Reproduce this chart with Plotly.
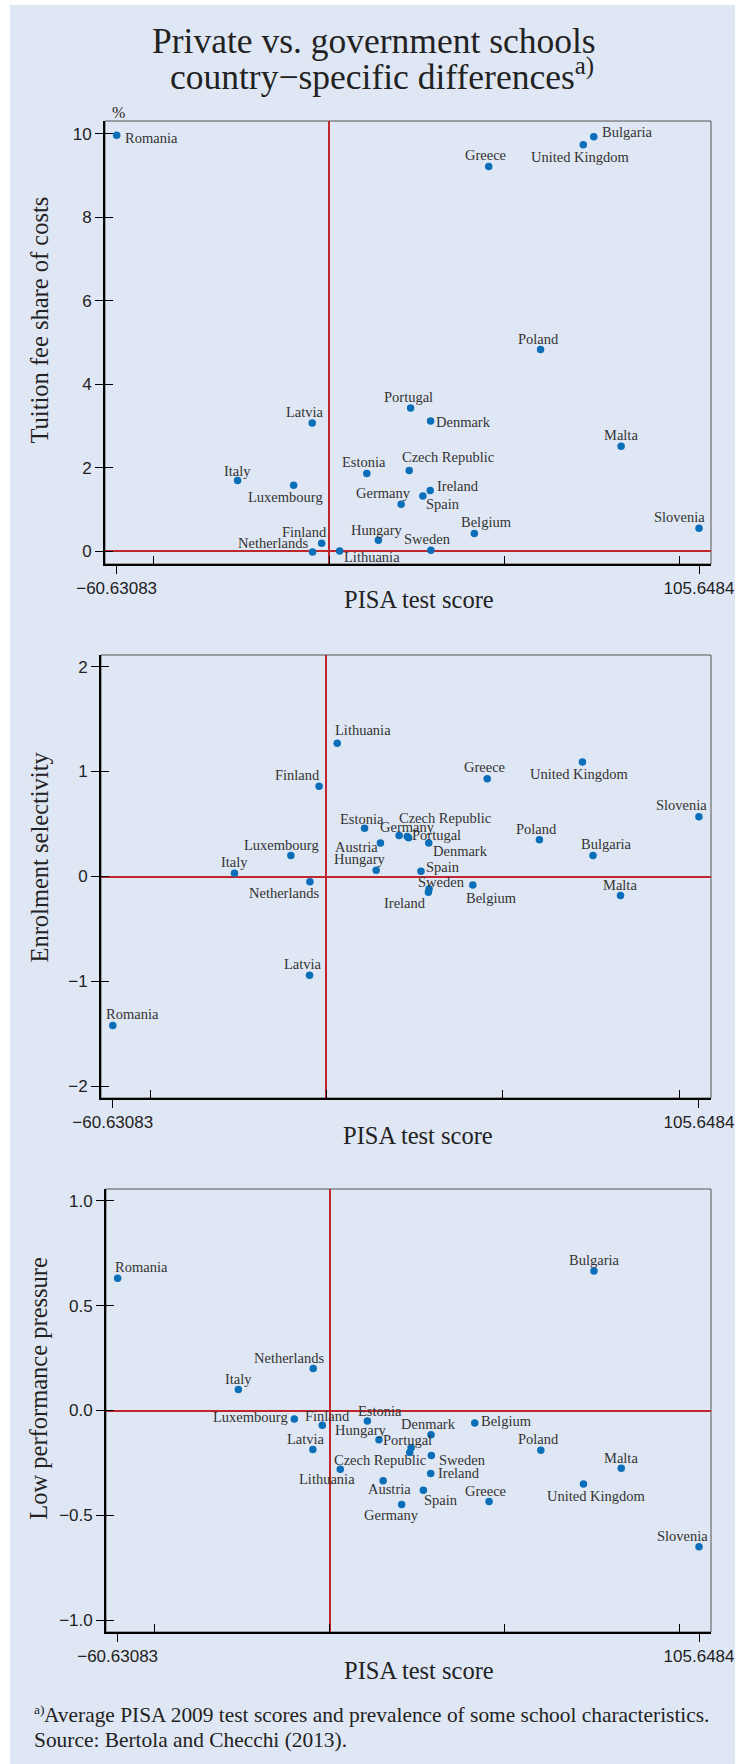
import plotly.graph_objects as go

# ---------------------------------------------------------------------------
# Data: private minus government school differences, by country
# ---------------------------------------------------------------------------
countries = [
    "Romania", "Italy", "Luxembourg", "Latvia", "Netherlands", "Finland",
    "Lithuania", "Estonia", "Hungary", "Austria", "Germany", "Czech Republic",
    "Portugal", "Spain", "Ireland", "Denmark", "Sweden", "Belgium", "Greece",
    "Poland", "United Kingdom", "Bulgaria", "Malta", "Slovenia",
]
pisa_score = [
    -60.63083, -26.1, -10.1, -4.8, -4.7, -2.1,
    3.05, 10.8, 14.1, 15.3, 20.6, 22.9,
    23.3, 26.8, 28.9, 29.0, 29.1, 41.5, 45.6,
    60.4, 72.6, 75.6, 83.4, 105.6484,
]
tuition_fee_share = [
    9.97, 1.69, 1.58, 3.07, -0.02, 0.19,
    0.0, 1.86, 0.26, None, 1.12, 1.93,
    3.43, 1.32, 1.45, 3.12, 0.02, 0.42, 9.22,
    4.83, 9.74, 9.93, 2.51, 0.55,
]
enrolment_selectivity = [
    -1.42, 0.03, 0.20, -0.94, -0.05, 0.86,
    1.27, 0.46, 0.06, 0.32, 0.39, 0.38,
    0.37, 0.05, -0.15, 0.32, -0.12, -0.08, 0.93,
    0.35, 1.09, 0.20, -0.18, 0.57,
]
low_performance_pressure = [
    0.63, 0.10, -0.04, -0.186, 0.20, -0.07,
    -0.28, -0.05, -0.14, -0.335, -0.448, -0.20,
    -0.178, -0.38, -0.30, -0.116, -0.215, -0.059, -0.434,
    -0.19, -0.35, 0.665, -0.275, -0.65,
]

x_tick_vals = [-60.63083, 105.6484]
x_tick_text = ["\u221260.63083", "105.6484"]
x_minor_vals = [-50, 0, 50, 100]

y_titles = ["Tuition fee share of costs", "Enrolment selectivity",
            "Low performance pressure"]
y_tick_vals = [[0, 2, 4, 6, 8, 10], [-2, -1, 0, 1, 2], [-1.0, -0.5, 0.0, 0.5, 1.0]]
y_tick_formats = ["d", "d", ".1f"]

title_line1 = "Private vs. government schools"
title_line2 = "country\u2212specific differences<sup>a)</sup>"
footnote_line1 = "Average PISA 2009 test scores and prevalence of some school characteristics."
footnote_line2 = "Source: Bertola and Checchi (2013)."

# ---------------------------------------------------------------------------
# Styling and geometry (pixels on a 735 x 1764 page)
# ---------------------------------------------------------------------------
W, H = 735, 1764
SERIF = "Liberation Serif, Times New Roman, serif"
SANS = "Liberation Sans, Arial, Helvetica, sans-serif"
PAGE_BLUE = "#E0E7F4"
DOT_BLUE = "#0A6FB8"
REF_RED = "#C0272D"
INK = "#222222"
LABEL_INK = "#333333"

PLOT_RIGHT = 711
X_RANGE = [-63.96, 109.07]
panel_boxes = [  # left, top, bottom (px)
    (105, 121, 564),
    (101, 655, 1098),
    (106, 1189, 1632),
]
y_ranges = [[-0.31, 10.31], [-2.11, 2.11], [-1.056, 1.056]]
y_title_centres = [320.5, 857.5, 1388.7]
x_title_centres = [(419, 600), (417.5, 1135), (419, 1670)]

# label placement: (dx, dy) of label centre from its marker, px, dy downwards
label_offsets = [
    {
        "Romania": (34.7, 2.7), "Bulgaria": (33, -5.3), "United Kingdom": (-2.5, 12.6),
        "Greece": (-3.4, -11.3), "Poland": (-2.4, -10.7), "Portugal": (-2.4, -11.3),
        "Denmark": (32.7, 1.3), "Latvia": (-7.6, -11.3), "Malta": (-0.5, -11.3),
        "Estonia": (-2.7, -11), "Czech Republic": (38.7, -13.4), "Italy": (-0.4, -10),
        "Luxembourg": (-7.7, 11.7), "Germany": (-17.2, -11), "Ireland": (27.5, -4.7),
        "Spain": (19.8, 8), "Belgium": (12.4, -11.4), "Slovenia": (-19.5, -10.7),
        "Hungary": (-2, -10.3), "Sweden": (-3.5, -11.3), "Finland": (-17, -10.7),
        "Netherlands": (-39.2, -9), "Lithuania": (32.3, 6),
    },
    {
        "Lithuania": (25.5, -13), "Finland": (-21.3, -11), "Estonia": (-2.6, -9.7),
        "Germany": (8, -9), "Czech Republic": (37.7, -18.7), "Portugal": (28, -2.7),
        "Austria": (-24.3, 4), "Denmark": (31.5, 7.6), "Poland": (-2.7, -11),
        "Bulgaria": (13, -11), "Slovenia": (-17.3, -11.7), "Greece": (-3.1, -11.4),
        "United Kingdom": (-2.7, 12), "Luxembourg": (-9, -10.3), "Italy": (-0.3, -11),
        "Hungary": (-16.3, -11), "Netherlands": (-25.9, 11.6), "Spain": (22.5, -4.3),
        "Sweden": (12.7, -7), "Ireland": (-23.5, 10.6), "Belgium": (18.3, 13),
        "Malta": (-0.7, -10.3), "Latvia": (-6.4, -10.7), "Romania": (19.6, -11.4),
    },
    {
        "Romania": (24.1, -11), "Netherlands": (-24.6, -11), "Italy": (0.4, -10.3),
        "Luxembourg": (-44.2, -2), "Finland": (5.1, -9), "Estonia": (12.7, -9.6),
        "Hungary": (-18.5, -10), "Latvia": (-6.7, -10.7), "Portugal": (-3.2, -8),
        "Czech Republic": (-29.6, 7.3), "Denmark": (-2.6, -10.7), "Belgium": (32, -2),
        "Sweden": (31.2, 4.3), "Ireland": (28.8, -0.7), "Lithuania": (-13.3, 9.3),
        "Austria": (6.6, 8.3), "Spain": (17.3, 9.3), "Greece": (-3.5, -11),
        "Germany": (-10.5, 10.3), "Poland": (-2.3, -11), "Bulgaria": (0, -11),
        "Malta": (0, -10), "United Kingdom": (13.5, 12), "Slovenia": (-17, -11),
    },
]


def px_x(v):
    return v / W


def px_y(v):
    return 1 - v / H


def ax_id(letter, n):
    return letter if n == 1 else f"{letter}{n}"


def ax_key(letter, n):
    return f"{letter}axis" if n == 1 else f"{letter}axis{n}"


fig = go.Figure()
layout = dict(
    template="none",
    width=W, height=H, autosize=False,
    margin=dict(l=0, r=0, t=0, b=0, pad=0),
    paper_bgcolor="white", plot_bgcolor="white",
    showlegend=False,
)
shapes = [dict(type="rect", xref="paper", yref="paper",
               x0=px_x(10), x1=1, y0=0, y1=px_y(5),
               fillcolor=PAGE_BLUE, line=dict(width=0), layer="below")]
annotations = []

panel_values = [tuition_fee_share, enrolment_selectivity, low_performance_pressure]

for i, values in enumerate(panel_values):
    n = i + 1
    xid, yid = ax_id("x", n), ax_id("y", n)
    left, top, bottom = panel_boxes[i]
    tick_style = dict(ticklen=8, tickwidth=1.2, tickcolor="black")

    layout[ax_key("x", n)] = dict(
        domain=[px_x(left), px_x(PLOT_RIGHT)], range=X_RANGE, anchor=yid,
        automargin=False,
        showline=True, linecolor="black", linewidth=1.8,
        ticks="outside", tickvals=x_tick_vals, ticktext=x_tick_text,
        tickfont=dict(family=SANS, size=17, color=INK),
        minor=dict(tickmode="array", tickvals=x_minor_vals, ticks="inside",
                   showgrid=False, **tick_style),
        showgrid=False, zeroline=True, zerolinecolor=REF_RED, zerolinewidth=1.7,
        fixedrange=True, **tick_style,
    )
    layout[ax_key("y", n)] = dict(
        domain=[px_y(bottom), px_y(top)], range=y_ranges[i], anchor=xid,
        automargin=False,
        showline=True, linecolor="black", linewidth=1.8,
        ticks="outside", tickvals=y_tick_vals[i], tickformat=y_tick_formats[i],
        tickfont=dict(family=SANS, size=17, color=INK),
        showgrid=False, zeroline=True, zerolinecolor=REF_RED, zerolinewidth=1.7,
        fixedrange=True, **tick_style,
    )
    # second left axis carries the inward half of the crossing y ticks
    layout[ax_key("y", n + 3)] = dict(
        overlaying=yid, anchor=xid, side="left", range=y_ranges[i],
        automargin=False,
        tickvals=y_tick_vals[i], ticks="inside", showticklabels=False,
        showline=False, showgrid=False, zeroline=False, fixedrange=True,
        **tick_style,
    )

    xs = [x for x, v in zip(pisa_score, values) if v is not None]
    ys = [v for v in values if v is not None]
    names = [c for c, v in zip(countries, values) if v is not None]

    fig.add_trace(go.Scatter(
        x=xs, y=ys, mode="markers", xaxis=xid, yaxis=yid,
        marker=dict(color=DOT_BLUE, size=7.5, line=dict(width=0)),
        hovertext=names, hoverinfo="text",
    ))
    fig.add_trace(go.Scatter(x=[None], y=[None], mode="markers",
                             xaxis=xid, yaxis=ax_id("y", n + 3),
                             hoverinfo="skip"))

    # thin frame on the top and right; left/bottom come from the axis lines
    shapes.append(dict(type="rect", xref=f"{xid} domain", yref=f"{yid} domain",
                       x0=0, x1=1, y0=0, y1=1, layer="below",
                       line=dict(color="#555555", width=1),
                       fillcolor="rgba(0,0,0,0)"))

    for name, x, y in zip(names, xs, ys):
        dx, dy = label_offsets[i][name]
        annotations.append(dict(
            x=x, y=y, xref=xid, yref=yid, text=name, showarrow=False,
            xanchor="center", yanchor="middle", xshift=dx, yshift=-dy,
            font=dict(family=SERIF, size=14.5, color=LABEL_INK),
        ))

    annotations.append(dict(
        x=px_x(39), y=px_y(y_title_centres[i]), xref="paper", yref="paper",
        text=y_titles[i], textangle=-90, showarrow=False,
        xanchor="center", yanchor="middle",
        font=dict(family=SERIF, size=24.5, color=INK),
    ))
    tx, ty = x_title_centres[i]
    annotations.append(dict(
        x=px_x(tx), y=px_y(ty), xref="paper", yref="paper",
        text="PISA test score", showarrow=False,
        xanchor="center", yanchor="middle",
        font=dict(family=SERIF, size=24.5, color=INK),
    ))

# unit marker above the first panel
annotations.append(dict(x=px_x(118.7), y=px_y(112), xref="paper", yref="paper",
                        text="%", showarrow=False, xanchor="center", yanchor="middle",
                        font=dict(family=SERIF, size=16, color=INK)))

# heading
annotations.append(dict(x=px_x(374), y=px_y(41.5), xref="paper", yref="paper",
                        text=title_line1, showarrow=False,
                        xanchor="center", yanchor="middle",
                        font=dict(family=SERIF, size=35.5, color=INK)))
annotations.append(dict(x=px_x(382), y=px_y(74), xref="paper", yref="paper",
                        text=title_line2, showarrow=False,
                        xanchor="center", yanchor="middle",
                        font=dict(family=SERIF, size=35.5, color=INK)))

# footnote
annotations.append(dict(x=px_x(31.5), y=px_y(1709), xref="paper", yref="paper",
                        text="a)", showarrow=False, xanchor="left", yanchor="middle",
                        font=dict(family=SERIF, size=13.5, color=INK)))
annotations.append(dict(x=px_x(41.6), y=px_y(1715), xref="paper", yref="paper",
                        text=footnote_line1, showarrow=False,
                        xanchor="left", yanchor="middle",
                        font=dict(family=SERIF, size=21.4, color=INK)))
annotations.append(dict(x=px_x(31.5), y=px_y(1740), xref="paper", yref="paper",
                        text=footnote_line2, showarrow=False,
                        xanchor="left", yanchor="middle",
                        font=dict(family=SERIF, size=21.4, color=INK)))

layout["shapes"] = shapes
layout["annotations"] = annotations
fig.update_layout(**layout)

fig.write_html("out.html")
